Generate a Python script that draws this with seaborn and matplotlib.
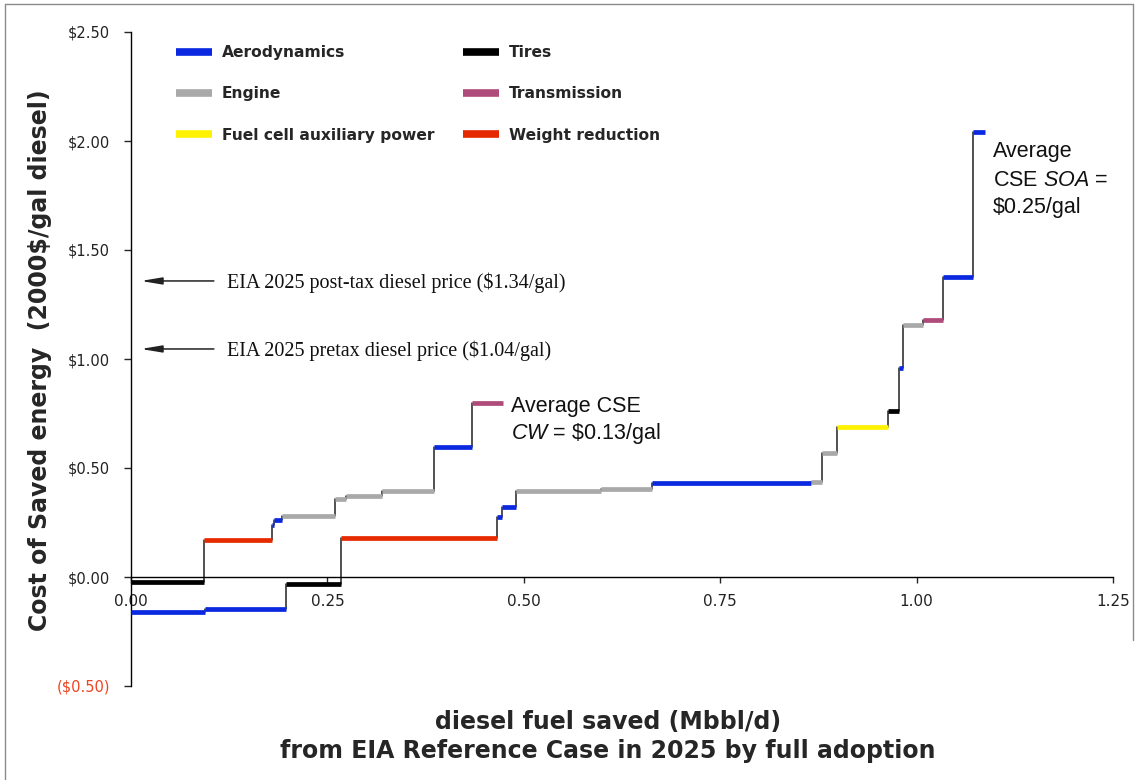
import numpy as np
import pandas as pd
import matplotlib
matplotlib.use("Agg")
import matplotlib.pyplot as plt
import seaborn as sns
from matplotlib.lines import Line2D

# ---------------- data ----------------
categories = ["Aerodynamics", "Engine", "Fuel cell auxiliary power",
              "Tires", "Transmission", "Weight reduction"]
cat_colors = ["#0A28E0", "#A9A9A9", "#FFF200", "#000000", "#AE4B7B", "#E62A00"]

# CW supply curve (Mbbl/d saved by each measure, cost in 2000$/gal)
cw_measures = ["Tires", "Weight reduction", "Aerodynamics", "Aerodynamics", "Engine",
               "Engine", "Engine", "Engine", "Aerodynamics", "Transmission"]
cw_savings = [0.0925, 0.0865, 0.003, 0.0105, 0.067, 0.014, 0.0465, 0.0655, 0.0485, 0.0395]
cw_cost = [-0.025, 0.17, 0.24, 0.26, 0.28, 0.358, 0.373, 0.393, 0.595, 0.798]

# SOA supply curve
soa_measures = ["Aerodynamics", "Aerodynamics", "Tires", "Weight reduction", "Aerodynamics",
                "Aerodynamics", "Engine", "Engine", "Aerodynamics", "Engine", "Engine",
                "Fuel cell auxiliary power", "Tires", "Aerodynamics", "Engine",
                "Transmission", "Aerodynamics", "Aerodynamics"]
soa_savings = [0.094, 0.103, 0.070, 0.1995, 0.0055, 0.018, 0.108, 0.065, 0.203, 0.014,
               0.019, 0.064, 0.014, 0.006, 0.0255, 0.0245, 0.0386, 0.015]
soa_cost = [-0.16, -0.145, -0.03, 0.18, 0.277, 0.321, 0.394, 0.402, 0.433, 0.437,
            0.567, 0.688, 0.761, 0.959, 1.155, 1.179, 1.376, 2.04]

y_ticks = [-0.5, 0.0, 0.5, 1.0, 1.5, 2.0, 2.5]
x_ticks = [0.0, 0.25, 0.5, 0.75, 1.0, 1.25]

price_posttax = 1.358
price_pretax = 1.046


def build_segments(name, measures, savings, cost):
    ends = np.cumsum(savings)
    starts = ends - np.asarray(savings)
    seg_rows, con_rows = [], []
    for i, (m, s, e, c) in enumerate(zip(measures, starts, ends, cost)):
        uid = f"{name}-{i}"
        seg_rows.append(dict(unit=uid, x=s, cost=c, category=m))
        seg_rows.append(dict(unit=uid, x=e, cost=c, category=m))
        if i + 1 < len(cost):
            cid = f"{name}-c{i}"
            con_rows.append(dict(unit=cid, x=e, cost=c))
            con_rows.append(dict(unit=cid, x=e, cost=cost[i + 1]))
    return seg_rows, con_rows


s1, c1 = build_segments("cw", cw_measures, cw_savings, cw_cost)
s2, c2 = build_segments("soa", soa_measures, soa_savings, soa_cost)
segs = pd.DataFrame(s1 + s2)
cons = pd.DataFrame(c1 + c2)

# ---------------- style ----------------
sns.set_style("white")
plt.rcParams["font.family"] = ["DejaVu Sans"]
plt.rcParams["mathtext.fontset"] = "custom"
plt.rcParams["mathtext.rm"] = "Liberation Sans"
plt.rcParams["mathtext.it"] = "Liberation Sans:italic"

W, H = 1138, 780
fig = plt.figure(figsize=(W / 100, H / 100), dpi=100)
ax = fig.add_axes([131 / W, 1 - 686 / H, 982 / W, 654 / H])

palette = dict(zip(categories, cat_colors))

sns.lineplot(data=cons, x="x", y="cost", units="unit", estimator=None, sort=False,
             color="#222222", lw=1.1, ax=ax, legend=False, zorder=2)
sns.lineplot(data=segs, x="x", y="cost", hue="category", hue_order=categories,
             palette=palette, units="unit", estimator=None, sort=False,
             lw=3.4, ax=ax, legend=False, zorder=3, solid_capstyle="butt")

ax.set_xlim(0, 1.25)
ax.set_ylim(-0.5, 2.5)
ax.spines["top"].set_visible(False)
ax.spines["right"].set_visible(False)
ax.spines["bottom"].set_position(("data", 0))
for sp in ("left", "bottom"):
    ax.spines[sp].set_color("#000000")
    ax.spines[sp].set_linewidth(1.0)

ax.set_xticks(x_ticks)
ax.set_xticklabels([f"{v:.2f}" for v in x_ticks])
ax.set_yticks(y_ticks)
ax.set_yticklabels([f"(${abs(v):.2f})" if v < 0 else f"${v:.2f}" for v in y_ticks])
ax.tick_params(axis="x", direction="out", length=4, width=1, pad=8,
               labelsize=11, labelcolor="#222222", bottom=True)
ax.tick_params(axis="y", direction="out", length=5, width=1, pad=10,
               labelsize=10.5, labelcolor="#222222", left=True)
for lab, v in zip(ax.get_yticklabels(), y_ticks):
    if v < 0:
        lab.set_color("#EE4422")

ax.set_xlabel("diesel fuel saved (Mbbl/d)\nfrom EIA Reference Case in 2025 by full adoption",
              fontsize=17, fontweight="bold", linespacing=1.3)
ax.xaxis.set_label_coords((608 - 131) / 982, -0.036)
ax.set_ylabel("Cost of Saved energy  (2000$/gal diesel)", fontsize=17, fontweight="bold")
ax.yaxis.set_label_coords(-0.080, 0.4985)

# legend
handles = [Line2D([0], [0], color=c, lw=5.5, solid_capstyle="butt") for c in cat_colors]
ax.legend(handles, categories, ncol=2, loc="upper left", frameon=False,
          bbox_to_anchor=(176 / W, 1 - 45 / H), bbox_transform=fig.transFigure,
          prop=dict(weight="bold", size=11.2), handlelength=2.3, handletextpad=0.65,
          labelspacing=1.7, columnspacing=1.85, borderpad=0, borderaxespad=0)

# price arrows
serif = "Liberation Serif"
for yv, txt in [(price_posttax, "EIA 2025 post-tax diesel price ($1.34/gal)"),
                (price_pretax, "EIA 2025 pretax diesel price ($1.04/gal)")]:
    ax.annotate("", xy=(0.009, yv), xytext=(0.109, yv),
                arrowprops=dict(arrowstyle="-|>,head_length=0.9,head_width=0.15",
                                color="#222222", lw=1.1, mutation_scale=14))
    ax.text(0.122, yv - 0.008, txt, family=serif, fontsize=14.5, va="center",
            ha="left", color="#111111")

sans = "Liberation Sans"
ax.text(0.4835, 0.78, "Average CSE", family=sans, fontsize=15.5, va="center", color="#111111")
ax.text(0.4835, 0.656, r"$\mathit{CW}$ = \$0.13/gal", family=sans, fontsize=15.5,
        va="center", color="#111111")
ax.text(1.097, 1.95, "Average", family=sans, fontsize=15.5, va="center", color="#111111")
ax.text(1.097, 1.821, r"CSE $\mathit{SOA}$ =", family=sans, fontsize=15.5, va="center",
        color="#111111")
ax.text(1.097, 1.693, "$0.25/gal", family=sans, fontsize=15.5, va="center", color="#111111")

# partial slide frame
fc = "#8a8a8a"
fig.add_artist(Line2D([5 / W, 5 / W], [0, 1 - 4 / H], color=fc, lw=1, transform=fig.transFigure))
fig.add_artist(Line2D([5 / W, 1133 / W], [1 - 4 / H, 1 - 4 / H], color=fc, lw=1,
                      transform=fig.transFigure))
fig.add_artist(Line2D([1133 / W, 1133 / W], [1 - 4 / H, 1 - 640 / H], color=fc, lw=1,
                      transform=fig.transFigure))

fig.savefig("out.png", dpi=100)
